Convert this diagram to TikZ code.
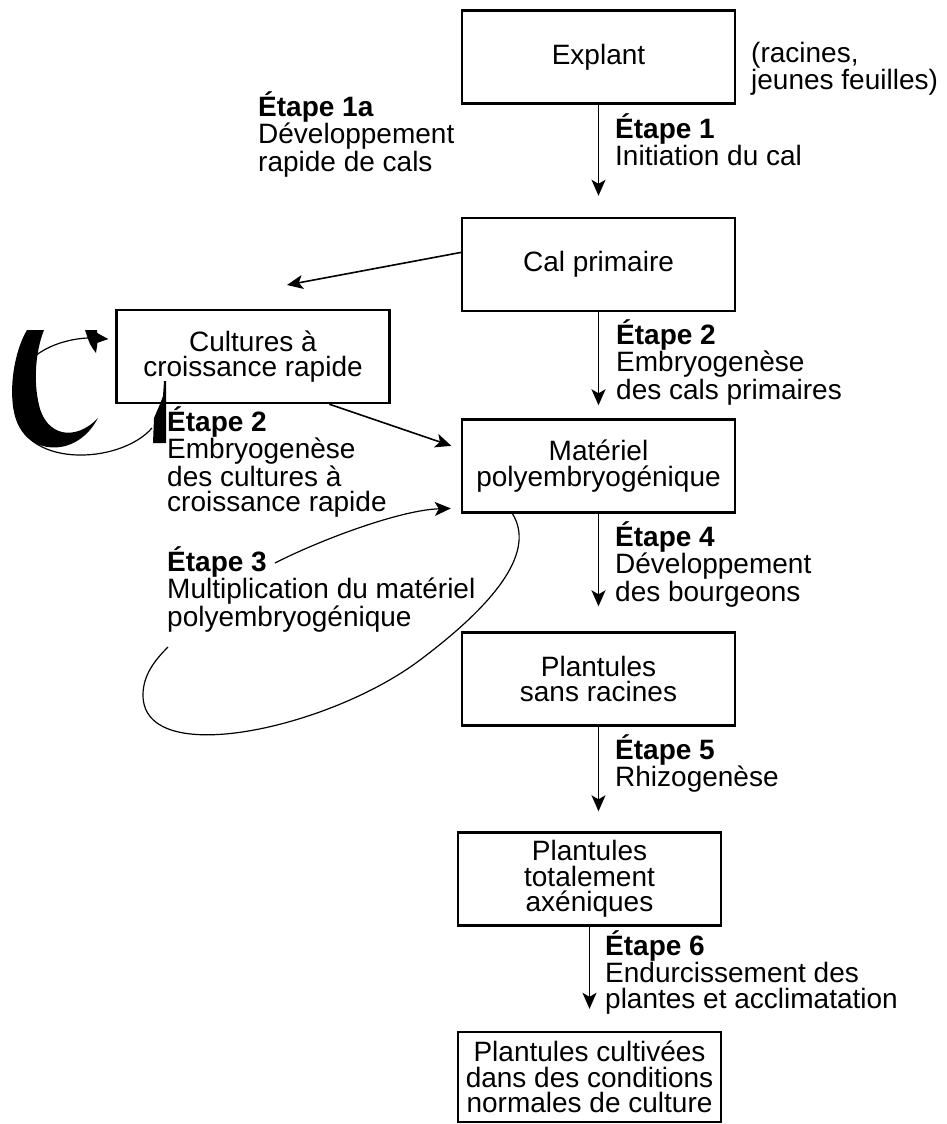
\documentclass[tikz,border=0pt]{standalone}
\usepackage{fontspec}
\setmainfont{Liberation Sans}
\usepackage{tikz}
\usetikzlibrary{arrows.meta,positioning,calc}

\begin{document}
\begin{tikzpicture}[x=1pt, y=-1pt,
    font=\fontsize{28}{25.5}\selectfont,
    stage/.style={draw, line width=2.4pt, minimum width=273pt, minimum height=93pt, align=center, inner sep=0pt},
    steplabel/.style={anchor=base west, align=left, inner sep=0pt},
    flow/.style={line width=1.6pt, -{Stealth[length=16pt, width=14pt, inset=4pt]}},
    loopline/.style={line width=1.2pt}]
    \useasboundingbox (0,0) rectangle (947,1124);

    % Main stages
    \node[stage] (explant) at (598.5,57) {Explant};
    \node[stage] (calprim) at (598.5,264.5) {Cal primaire};
    \node[stage] (cultures) at (253,356.5) {Cultures à\\croissance rapide};
    \node[stage] (materiel) at (598.5,466) {Matériel\\polyembryogénique};
    \node[stage] (sansrac) at (598.5,679) {Plantules\\sans racines};
    \node[stage, minimum width=263pt] (axenic) at (589.5,879) {Plantules\\totalement\\axéniques};
    \node[stage, minimum width=263pt, minimum height=90pt] (cultivees) at (589.5,1077) {Plantules cultivées\\dans des conditions\\normales de culture};

    % Side note (anchored on the last baseline)
    \node[steplabel] (source) at (751,89.5) {(racines,\\jeunes feuilles)};

    % Step labels (anchored on the last baseline)
    \node[steplabel] (e1a) at (258,171) {\textbf{Étape 1a}\\Développement\\rapide de cals};
    \node[steplabel] (e1) at (615,165.5) {\textbf{Étape 1}\\Initiation du cal};
    \node[steplabel] (e2) at (616,399) {\textbf{Étape 2}\\Embryogenèse\\des cals primaires};
    \node[steplabel] (e2b) at (167,511.5) {\textbf{Étape 2}\\Embryogenèse\\des cultures à\\croissance rapide};
    \node[steplabel] (e3) at (167,626) {\textbf{Étape 3}\\Multiplication du matériel\\polyembryogénique};
    \node[steplabel] (e4) at (615,601) {\textbf{Étape 4}\\Développement\\des bourgeons};
    \node[steplabel] (e5) at (615,786.5) {\textbf{Étape 5}\\Rhizogenèse};
    \node[steplabel] (e6) at (605,1008) {\textbf{Étape 6}\\Endurcissement des\\plantes et acclimatation};

    % Free ends
    \coordinate (c1a) at (287,285);
    \coordinate (e3start) at (275,563);
    \coordinate (loopstart) at (152,428);

    % Main flow
    \draw[flow, shorten >=21pt] (explant) -- (calprim);
    \draw[flow, shorten >=13pt] (calprim) -- (materiel);
    \draw[flow, shorten >=25pt] (materiel) -- (sansrac);
    \draw[flow, shorten >=20pt] (sansrac.south) -- (sansrac.south |- axenic.north);
    \draw[flow, shorten >=22pt] (axenic) -- (cultivees);

    % Side branch
    \draw[flow] (calprim.175) -- (c1a);
    \draw[flow, shorten >=10pt] (cultures.-32) -- (materiel.173);
    \draw[flow, line width=1.2pt, shorten >=10pt] (e3start) .. controls (320,540) and (400,510) .. (materiel.197);
    \draw[loopline] (materiel.209) .. controls (535,550) and (500,600) .. (420,660)
        .. controls (330,728) and (143,770) .. (143,695) .. controls (143,675) and (155,660) .. (168,647);
    \draw[flow, line width=1.2pt, shorten >=7pt] (loopstart) .. controls (120,465) and (18,470) .. (14,405)
        .. controls (10,350) and (70,336) .. (cultures.173);

    % Black scan marks
    \fill (27,330) .. controls (12,355) and (6,405) .. (20,428) .. controls (35,455) and (78,456) .. (98,418)
        .. controls (75,442) and (46,436) .. (39,405) .. controls (33,380) and (36,350) .. (44,330) -- cycle;
    \fill (85,330) -- (97,330) .. controls (98,340) .. (96,353) .. controls (90,345) .. (85,330) -- cycle;
    \fill (164,381) -- (166,381) -- (166,443) -- (153,443) -- (154,418) -- (160,404) -- (163,396) -- cycle;
\end{tikzpicture}
\end{document}
